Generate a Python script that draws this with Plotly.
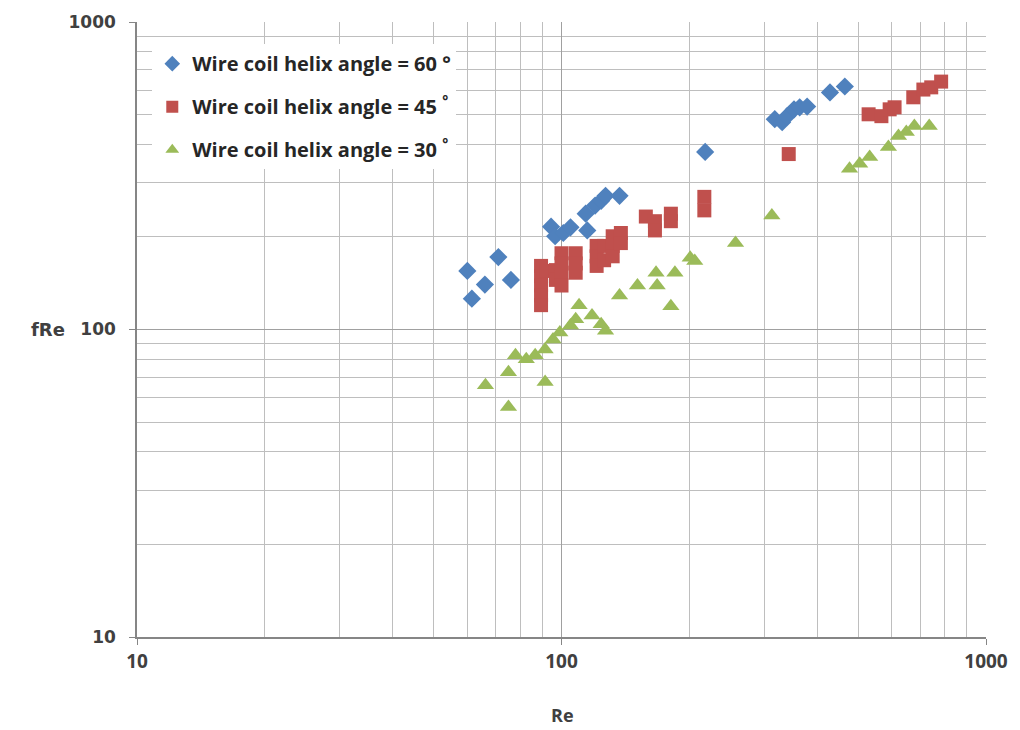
import plotly.graph_objects as go

# Wire coil helix angle = 60°
re_60 = [60, 61.5, 66, 71, 76, 94.5, 96.6, 101, 105, 115, 114, 120, 124, 127, 137,
         218, 318, 331, 340, 353, 364, 379, 429, 465]
fre_60 = [155, 126, 140, 172, 145, 216, 201, 206, 215, 210, 238, 253, 262, 272, 272,
          378, 483, 472, 494, 520, 528, 531, 590, 617]

# Wire coil helix angle = 45°
re_45 = [89.5, 89.5, 89.5, 89.5, 89.5, 92, 97, 97, 100, 100, 100, 100, 108, 108, 108,
         121, 121, 121, 126, 126, 132, 132, 132, 138, 138, 158, 166, 166, 181, 181,
         217, 217, 343, 529, 567, 593, 609, 674, 712, 743, 784]
fre_45 = [161, 149, 139, 129, 120, 155, 156, 145, 177, 164, 153, 139, 177, 164, 153,
          187, 173, 161, 187, 168, 201, 187, 173, 206, 191, 233, 225, 210, 238, 225,
          270, 244, 372, 501, 494, 520, 528, 569, 603, 613, 640]

# Wire coil helix angle = 30°
re_30 = [66.2, 75, 75, 77.9, 82.6, 86.7, 91.5, 91.5, 95.5, 99.1, 105, 108, 110, 118,
         124, 127, 137, 151, 167, 168, 181, 185, 201, 206, 257, 313, 477, 504, 532,
         589, 622, 649, 678, 735]
fre_30 = [65.9, 72.6, 56, 82.4, 80, 82.4, 67.5, 86.1, 92.8, 97.8, 103, 108, 120, 111,
          104, 99, 129, 139, 153, 139, 119, 153, 171, 167, 191, 235, 333, 346, 364,
          392, 426, 439, 459, 459]

tick_vals = [10, 100, 1000]
tick_text = ["10", "100", "1000"]

fig = go.Figure()
fig.add_trace(go.Scatter(x=re_60, y=fre_60, mode="markers", legendgroup="g60",
                         name="Wire coil helix angle = 60 \u00b0",
                         marker=dict(symbol="diamond", size=14, color="#4F81BD")))
fig.add_trace(go.Scatter(x=re_45, y=fre_45, mode="markers", legendgroup="g45",
                         name="Wire coil helix angle = 45 <sup>\u00b0</sup>",
                         marker=dict(symbol="square", size=14, color="#C0504D")))
fig.add_trace(go.Scatter(x=re_30, y=fre_30, mode="markers", legendgroup="g30",
                         name="Wire coil helix angle = 30 <sup>\u00b0</sup>",
                         marker=dict(symbol="triangle-up", size=15, color="#9BBB59")))

axis_common = dict(
    type="log",
    range=[1, 3],
    tickvals=tick_vals, ticktext=tick_text,
    showgrid=True, gridcolor="#A0A0A0", gridwidth=1,
    showline=True, linecolor="#868686", linewidth=1.5,
    ticks="outside", ticklen=6, tickcolor="#868686",
    minor=dict(dtick="D1", showgrid=True, gridcolor="#BEBEBE", gridwidth=1, ticks=""),
    zeroline=False,
    mirror=False,
)

fig.update_xaxes(tickfont=dict(family="Open Sans", size=19, color="#404040", weight="bold"),
                 **axis_common)
fig.update_yaxes(tickfont=dict(family="DejaVu Sans", size=17, color="#404040", weight="bold"),
                 ticklabelstandoff=10, **axis_common)

fig.update_layout(
    annotations=[
        dict(text="fRe", xref="paper", yref="paper", x=(48 - 137) / 853, y=(637 - 327) / 620,
             showarrow=False, xanchor="center", yanchor="middle",
             font=dict(family="DejaVu Sans", size=18, color="#404040", weight="bold")),
        dict(text="Re", xref="paper", yref="paper", x=(565 - 137) / 853, y=-(716 - 637) / 620,
             showarrow=False, xanchor="center", yanchor="middle",
             font=dict(family="Open Sans", size=18, color="#404040", weight="bold")),
    ],
    width=1020, height=730,
    margin=dict(l=137, r=28, t=17, b=93),
    paper_bgcolor="white", plot_bgcolor="white",
    showlegend=True,
    legend=dict(x=0.018, y=0.964, xanchor="left", yanchor="top",
                bgcolor="white", borderwidth=0,
                font=dict(family="Open Sans", size=20, color="#262626", weight="bold"),
                itemsizing="constant", tracegroupgap=14),
)

fig.write_html("out.html")
